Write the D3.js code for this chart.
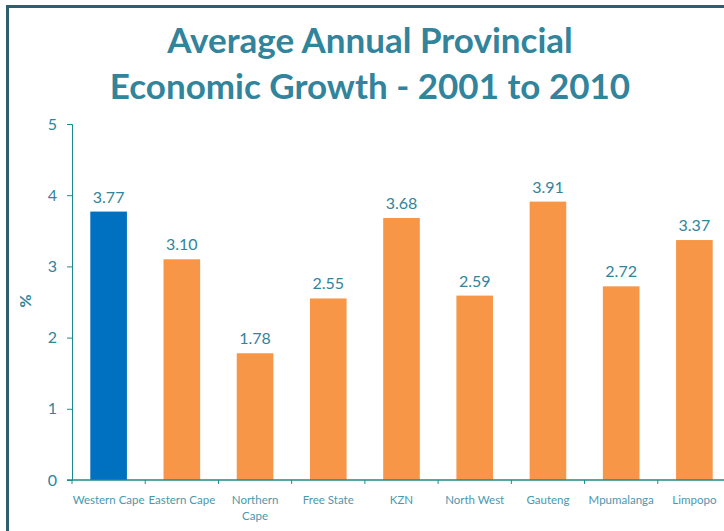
<!DOCTYPE html>
<html lang="en">
<head>
  <meta charset="utf-8">
  <script src="https://d3js.org/d3.v7.min.js"></script>
  <style>
    body { margin: 0; background: #fff; }
    svg { display: block; font-family: Lato, "Open Sans", sans-serif; }
  </style>
</head>
<body>
  <svg id="chart" width="724" height="531"></svg>
  <script>
    // data
    const provinces = ["Western Cape", "Eastern Cape", "Northern Cape", "Free State", "KZN",
                       "North West", "Gauteng", "Mpumalanga", "Limpopo"];
    const growth = [3.77, 3.10, 1.78, 2.55, 3.68, 2.59, 3.91, 2.72, 3.37];
    const yTicks = [0, 1, 2, 3, 4, 5];
    const titleLines = ["Average Annual Provincial", "Economic Growth - 2001 to 2010"];

    const svg = d3.select("#chart");
    const teal = "#31849B";
    const axisCol = "#1F8A8A";

    // slide frame
    svg.append("path")
      .attr("d", "M7.5,531 L7.5,6.5 L724,6.5")
      .attr("fill", "none")
      .attr("stroke", "#2F5F6F")
      .attr("stroke-width", 3);

    svg.selectAll(".title").data(titleLines)
      .enter().append("text")
      .attr("class", "title")
      .attr("x", 370)
      .attr("y", (d, i) => 53 + i * 46)
      .attr("text-anchor", "middle")
      .attr("font-size", 35)
      .attr("font-weight", "bold")
      .attr("fill", teal)
      .text(d => d);

    let x = d3.scaleBand().domain(provinces).range([72, 731]).paddingInner(0.5).paddingOuter(0.25);
    let y = d3.scaleLinear().domain([0, 5]).range([480, 124]);

    // y axis
    let yAxis = svg.append("g").attr("transform", "translate(72,0)")
      .call(d3.axisLeft(y).tickValues(yTicks).tickFormat(d3.format("d")).tickSize(5).tickPadding(10));
    yAxis.select(".domain").attr("stroke", axisCol).attr("d", "M-5,124.5H0.5V480.5");
    yAxis.selectAll(".tick line").attr("stroke", axisCol);
    yAxis.selectAll(".tick text").attr("fill", teal).attr("font-size", 16)
      .attr("font-family", "Lato, sans-serif");

    svg.append("text")
      .attr("transform", "translate(31,301) rotate(-90)")
      .attr("text-anchor", "middle")
      .attr("font-size", 16)
      .attr("font-weight", "bold")
      .attr("fill", teal)
      .text("%");

    // bars
    svg.selectAll(".bar").data(growth)
      .enter().append("rect")
      .attr("class", "bar")
      .attr("x", (d, i) => x(provinces[i]))
      .attr("width", x.bandwidth())
      .attr("y", d => y(d))
      .attr("height", d => y(0) - y(d))
      .attr("fill", (d, i) => i === 0 ? "#0070C0" : "#F79646");

    svg.selectAll(".val").data(growth)
      .enter().append("text")
      .attr("class", "val")
      .attr("x", (d, i) => x(provinces[i]) + x.bandwidth() / 2)
      .attr("y", d => y(d) - 9)
      .attr("text-anchor", "middle")
      .attr("font-size", 16)
      .attr("fill", teal)
      .text(d => d.toFixed(2));

    // x axis
    let step = x.step();
    let xAxis = svg.append("g").attr("transform", "translate(0,480)");
    xAxis.append("line")
      .attr("x1", 67).attr("x2", 724)
      .attr("stroke", axisCol).attr("stroke-width", 1.5);
    xAxis.selectAll(".xt").data(provinces)
      .enter().append("line")
      .attr("x1", (d, i) => 72 + i * step)
      .attr("x2", (d, i) => 72 + i * step)
      .attr("y1", 0).attr("y2", 4)
      .attr("stroke", axisCol);

    let labels = xAxis.selectAll(".xl").data(provinces)
      .enter().append("text")
      .attr("x", d => x(d) + x.bandwidth() / 2)
      .attr("y", 24)
      .attr("text-anchor", "middle")
      .attr("font-size", 11.5)
      .attr("fill", "#4A98AE");
    labels.each(function(d) {
      let parts = d === "Northern Cape" ? ["Northern", "Cape"] : [d];
      d3.select(this).selectAll("tspan").data(parts)
        .enter().append("tspan")
        .attr("x", x(d) + x.bandwidth() / 2)
        .attr("dy", (p, j) => j === 0 ? 0 : 16)
        .text(p => p);
    });
  </script>
</body>
</html>
